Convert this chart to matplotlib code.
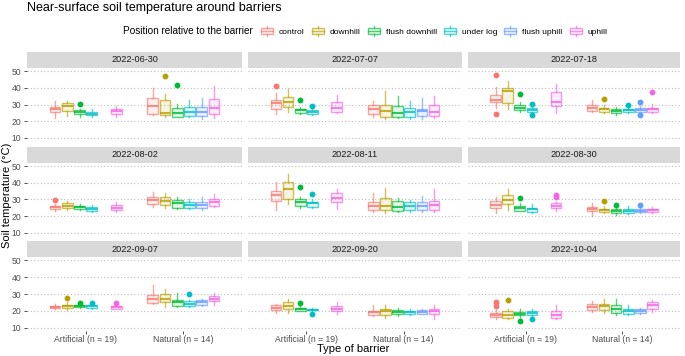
import numpy as np
import matplotlib
matplotlib.use("Agg")
import matplotlib.pyplot as plt
from matplotlib.colors import to_rgba
from matplotlib.lines import Line2D
from matplotlib.patches import Rectangle
from matplotlib.legend_handler import HandlerBase

plt.rcParams["font.family"] = ["Liberation Sans", "DejaVu Sans"]

nan = np.nan

# Data ------------------------------------------------------------------
dates = ["2022-06-30", "2022-07-07", "2022-07-18",
         "2022-08-02", "2022-08-11", "2022-08-30",
         "2022-09-07", "2022-09-20", "2022-10-04"]
positions = ["control", "downhill", "flush downhill", "under log", "flush uphill", "uphill"]
colors = ["#F8766D", "#B79F00", "#00BA38", "#00BFC4", "#619CFF", "#F564E3"]
barrier_types = ["Artificial (n = 19)", "Natural (n = 14)"]

# each list: 6 artificial boxes then 6 natural boxes, in the order of `positions`
whisker_low = {
    "2022-06-30": [22, 23, 22.6, 22.6, nan, 22.4, 23.4, 22.6, 22.4, 22.6, 21.4, 22],
    "2022-07-07": [24, 25.4, 24, 23.4, nan, 24.6, 22.6, 21.4, 22, 21.4, 21.4, 22],
    "2022-07-18": [28, 27.4, 25.4, 25, nan, 25, 25.4, 24.6, 23.6, 25, 24.6, 24.6],
    "2022-08-02": [23, 23.6, 23.6, 22.6, nan, 22.6, 25.6, 25, 24.2, 24.2, 23.6, 25.6],
    "2022-08-11": [23.6, 27, 25, 25, nan, 24.2, 22.6, 22, 22.6, 22.6, 22.6, 22.6],
    "2022-08-30": [22, 23.6, 23, 22, nan, 23, 20.2, 21.6, 20.6, 21, 21.6, 22],
    "2022-09-07": [21.3, 20.7, 21.5, 21.3, nan, 20.9, 24.3, 22.3, 22.3, 22.3, 22.7, 23.3],
    "2022-09-20": [18.9, 18.7, 19.7, 19.9, nan, 18.3, 16.7, 15.9, 16.7, 17.3, 17.9, 15.3],
    "2022-10-04": [15.3, 14.9, 15.9, 16.7, nan, 14.9, 19.3, 18.9, 17.3, 17.7, 18.3, 19.3],
}
q1 = {
    "2022-06-30": [25.6, 26, 24, 23.4, nan, 24, 24.4, 23.4, 22.6, 23, 23, 24],
    "2022-07-07": [27.4, 28.6, 25, 24, nan, 25.4, 24, 22.6, 22.6, 22.6, 23, 23],
    "2022-07-18": [31.6, 31, 26.6, 25.6, nan, 29, 26, 25.4, 24.6, 25.4, 25.4, 25.6],
    "2022-08-02": [24.2, 24.6, 24.2, 23, nan, 23.6, 27, 26.6, 24.6, 25, 24.6, 26.2],
    "2022-08-11": [29.3, 30.3, 26.2, 25.6, nan, 28.7, 23.6, 23.6, 23, 23.6, 23.6, 23.6],
    "2022-08-30": [24.6, 27, 23.2, 22.6, nan, 25, 23, 22.2, 22, 22, 22.2, 22.6],
    "2022-09-07": [21.7, 21.9, 22.1, 21.9, nan, 21.3, 24.9, 25.2, 22.9, 22.9, 23.3, 25.8],
    "2022-09-20": [20.3, 21.3, 19.9, 20.3, nan, 19.7, 17.3, 17.3, 17.9, 18.3, 18.3, 18.3],
    "2022-10-04": [16.3, 15.9, 17.3, 17.7, nan, 15.9, 20.7, 20.3, 18.9, 18.3, 18.7, 20.9],
}
median = {
    "2022-06-30": [27, 28.8, 25.4, 24.4, nan, 26, 29, 24.6, 25, 25.6, 25.6, 28],
    "2022-07-07": [31, 31.6, 26.4, 25.2, nan, 28, 27, 26, 25, 25.4, 26, 25.6],
    "2022-07-18": [33, 38, 28, 26.6, nan, 31.6, 27.6, 27, 26, 26.4, 26.6, 27],
    "2022-08-02": [25.2, 26.2, 25.2, 24.2, nan, 25, 29.7, 29.3, 27.7, 26.6, 26.6, 28.3],
    "2022-08-11": [32.7, 36.2, 28.7, 27.7, nan, 30.7, 26.2, 26.2, 25.6, 26.2, 26.2, 26.6],
    "2022-08-30": [26.6, 29.7, 24.6, 24, nan, 26.2, 24.2, 23.6, 23.2, 23.2, 23.2, 23.6],
    "2022-09-07": [22.5, 22.9, 22.9, 22.7, nan, 22.1, 27.2, 27.2, 25.2, 24.3, 25.2, 27.2],
    "2022-09-20": [21.9, 22.9, 20.9, 20.7, nan, 21.3, 19.3, 19.7, 19.3, 19.1, 19.3, 19.7],
    "2022-10-04": [17.7, 17.7, 18.3, 18.9, nan, 17.7, 22.3, 22.7, 21.3, 19.7, 19.9, 23.3],
}
q3 = {
    "2022-06-30": [28.4, 31, 26.4, 25.4, nan, 27.4, 34, 33, 28, 28.4, 28.4, 33.4],
    "2022-07-07": [32.6, 34.6, 27.4, 26.4, nan, 31.8, 29.4, 29.4, 29, 27.6, 27.4, 29.4],
    "2022-07-18": [36, 40, 29.4, 27.6, nan, 37.4, 29.4, 28, 27, 27, 27.6, 28],
    "2022-08-02": [26.2, 27.7, 26.2, 25.6, nan, 26.6, 31.7, 31.3, 29.7, 28.7, 28.7, 30.3],
    "2022-08-11": [35.2, 40.5, 30.3, 28.7, nan, 33.8, 28.3, 31.1, 29.1, 28.3, 28.3, 29.3],
    "2022-08-30": [29.1, 32.7, 26, 25, nan, 27.7, 25.6, 24.2, 24, 24.2, 24.2, 24.2],
    "2022-09-07": [23.1, 23.7, 23.5, 23.3, nan, 22.7, 29.2, 30.2, 26.6, 25.6, 26.6, 28.6],
    "2022-09-20": [23.7, 25.2, 21.9, 21.3, nan, 22.9, 20.1, 21.3, 20.7, 19.7, 20.7, 21.3],
    "2022-10-04": [18.9, 19.9, 19.3, 19.9, nan, 19.7, 23.9, 24.3, 23.3, 20.9, 20.9, 25.2],
}
whisker_high = {
    "2022-06-30": [32.4, 32.4, 27, 27, nan, 29, 40, 36.4, 30.6, 33, 34, 41],
    "2022-07-07": [37, 39.6, 28.4, 27, nan, 35.6, 32, 38.4, 35.4, 32, 34, 35.4],
    "2022-07-18": [40.4, 44.4, 31.4, 28.4, nan, 42.6, 33, 30, 28.6, 28, 29, 30.4],
    "2022-08-02": [27.5, 29.1, 27, 26.6, nan, 28.3, 34.8, 33.8, 31.3, 30, 31.3, 33.3],
    "2022-08-11": [40.5, 45.3, 31.3, 30, nan, 36.2, 33.8, 36.8, 30.7, 29.7, 32.1, 36.2],
    "2022-08-30": [31.7, 36.4, 27.7, 27, nan, 28.5, 28.1, 26, 25.2, 26.2, 25, 25.6],
    "2022-09-07": [23.9, 25.2, 23.9, 23.9, nan, 23.3, 35.5, 33.2, 30.8, 26.6, 27.2, 30.8],
    "2022-09-20": [24.3, 27.2, 22.7, 21.7, nan, 25.2, 23.3, 23.3, 21.9, 20.9, 21.3, 23.3],
    "2022-10-04": [20.3, 21.3, 20.9, 21.3, nan, 23.3, 25.8, 27.2, 26.8, 23.3, 21.7, 26.2],
}
outliers = {
    "2022-06-30": [[], [], [30.6], [], [], [], [], [47], [41.6], [], [], []],
    "2022-07-07": [[41.4], [], [33], [29], [], [], [], [], [], [], [], []],
    "2022-07-18": [[47.6, 24], [], [36.4], [30.4, 23.6], [], [], [], [33.4], [], [29.6], [31.8, 23.6], [37.4]],
    "2022-08-02": [[29.7], [], [], [], [], [], [], [], [], [], [], []],
    "2022-08-11": [[], [], [37.8], [33.1], [], [], [], [], [], [], [], []],
    "2022-08-30": [[], [], [31.1], [], [], [31.5, 32.5], [], [29.1], [26.6], [], [26.4], []],
    "2022-09-07": [[], [27.6], [24.5], [24.5], [], [24.9], [], [], [], [29.8], [], []],
    "2022-09-20": [[], [], [24.7], [18.3], [], [], [], [], [], [], [], []],
    "2022-10-04": [[22.7, 25.2], [26.6], [14], [15.2], [], [], [], [], [], [], [], []],
}


# Legend key that looks like a small boxplot --------------------------------
class BoxKey(HandlerBase):
    def create_artists(self, legend, orig_handle, xdescent, ydescent,
                       width, height, fontsize, trans):
        c = orig_handle.get_color()
        x0, y0 = -xdescent, -ydescent
        box = Rectangle((x0, y0 + 0.2 * height), width, 0.6 * height,
                        facecolor=to_rgba(c, 0.12), edgecolor=to_rgba(c, 0.65),
                        lw=1.0, transform=trans)
        med = Line2D([x0, x0 + width], [y0 + 0.5 * height] * 2,
                     color=to_rgba(c, 0.65), lw=1.0, transform=trans)
        w1 = Line2D([x0 + width / 2] * 2, [y0, y0 + 0.2 * height],
                    color=to_rgba(c, 0.65), lw=1.0, transform=trans)
        w2 = Line2D([x0 + width / 2] * 2, [y0 + 0.8 * height, y0 + height],
                    color=to_rgba(c, 0.65), lw=1.0, transform=trans)
        return [box, med, w1, w2]


# Layout ------------------------------------------------------------------
W, H = 685, 356
fig = plt.figure(figsize=(W / 100, H / 100), dpi=100)
fig.patch.set_facecolor("white")

col_px = [(27, 242), (248, 462), (468, 680)]
row_px = [(68, 141), (163, 236), (257, 331)]
strip_h = 16


def rect(x0, x1, y0, y1):
    return [x0 / W, 1 - y1 / H, (x1 - x0) / W, (y1 - y0) / H]


offsets = (np.arange(6) - 2.5) * 0.125

for i, d in enumerate(dates):
    r, c = divmod(i, 3)
    x0, x1 = col_px[c]
    y0, y1 = row_px[r]
    ax = fig.add_axes(rect(x0, x1, y0, y1))
    ax.set_xlim(0.4, 2.6)
    ax.set_ylim(8, 52)
    for s in ax.spines.values():
        s.set_visible(False)
    ax.set_yticks([10, 20, 30, 40, 50])
    ax.yaxis.grid(True, linestyle=(0, (1, 2)), color="#BDBDBD", lw=0.8)
    ax.set_axisbelow(True)

    stats, pos, cols = [], [], []
    for g in range(2):
        for k in range(6):
            j = g * 6 + k
            if np.isnan(median[d][j]):
                continue
            stats.append(dict(med=median[d][j], q1=q1[d][j], q3=q3[d][j],
                              whislo=whisker_low[d][j], whishi=whisker_high[d][j],
                              fliers=outliers[d][j]))
            pos.append(g + 1 + offsets[k])
            cols.append(colors[k])

    bp = ax.bxp(stats, positions=pos, widths=0.11, patch_artist=True,
                showcaps=False, manage_ticks=False)
    for n, col in enumerate(cols):
        bp["boxes"][n].set(facecolor=to_rgba(col, 0.12), edgecolor=to_rgba(col, 0.65), lw=1.0)
        bp["medians"][n].set(color=to_rgba(col, 0.8), lw=1.5)
        for wk in bp["whiskers"][2 * n:2 * n + 2]:
            wk.set(color=to_rgba(col, 0.65), lw=1.0)
        bp["fliers"][n].set(marker="o", markerfacecolor=col, markeredgecolor=col,
                            markersize=3.2, linestyle="none")

    ax.tick_params(axis="y", length=2.5, width=0.6, color="#333333",
                   labelsize=6.2, labelcolor="#4D4D4D", pad=1.5)
    ax.tick_params(axis="x", length=2, width=0.6, color="#333333",
                   labelsize=6.2, labelcolor="#4D4D4D", pad=0.8)
    if c == 0:
        ax.set_yticklabels(["10", "20", "30", "40", "50"])
    else:
        ax.tick_params(axis="y", left=False, labelleft=False)
    if r == 2:
        ax.set_xticks([1, 2])
        ax.set_xticklabels(barrier_types)
    else:
        ax.set_xticks([])

    # facet strip
    sax = fig.add_axes(rect(x0, x1, y0 - strip_h, y0))
    sax.set_facecolor("#D9D9D9")
    sax.set_xticks([])
    sax.set_yticks([])
    for s in sax.spines.values():
        s.set_visible(False)
    sax.text(0.5, 0.5, d, ha="center", va="center", fontsize=6.6,
             color="#1A1A1A", transform=sax.transAxes)

# Texts -------------------------------------------------------------------
fig.text(27 / W, 1 - 8 / H, "Near-surface soil temperature around barriers",
         fontsize=9, ha="left", va="center")
fig.text(7 / W, 1 - 195 / H, "Soil temperature (°C)", rotation=90,
         fontsize=8, ha="center", va="center")
fig.text(353.5 / W, 1 - 349 / H, "Type of barrier", fontsize=8,
         ha="center", va="center")

fig.text(123 / W, 1 - 31 / H, "Position relative to the barrier",
         fontsize=7.2, ha="left", va="center")
handles = [Line2D([], [], color=col) for col in colors]
fig.legend(handles, positions, loc="center left",
           bbox_to_anchor=(261 / W, 1 - 31 / H), ncol=6, frameon=False,
           fontsize=6, handlelength=1.45, handleheight=1.45,
           handletextpad=0.7, columnspacing=0.85, borderaxespad=0,
           borderpad=0, handler_map={Line2D: BoxKey()})

fig.savefig("out.png", dpi=100)
